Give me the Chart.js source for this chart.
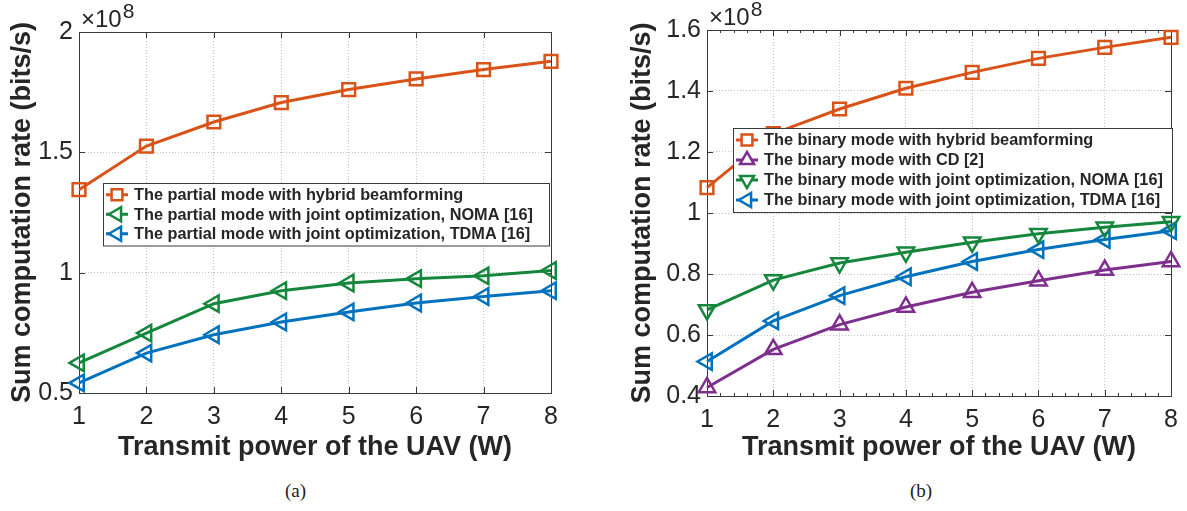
<!DOCTYPE html>
<html>
<head>
<meta charset="utf-8">
<script src="https://cdn.jsdelivr.net/npm/chart.js@4.4.0/dist/chart.umd.min.js"></script>
<style>
    body { margin: 0; background: #fff; width: 1187px; height: 511px; position: relative; overflow: hidden; }
    .box { position: absolute; top: 0; width: 590px; height: 470px; }
    #boxA { left: 0; }
    #boxB { left: 597px; }
    .cap { position: absolute; top: 480px; font-family: "Liberation Serif", "DejaVu Serif", serif; font-size: 19px; color: #222; }
</style>
</head>
<body>
<div class="box" id="boxA"><canvas id="chartA" width="590" height="470"></canvas></div>
<div class="box" id="boxB"><canvas id="chartB" width="590" height="470"></canvas></div>
<div class="cap" style="left:285px">(a)</div>
<div class="cap" style="left:910px">(b)</div>
<script>
/* globals Chart:false */

// transmit power (W)
const power = [1, 2, 3, 4, 5, 6, 7, 8];
// sum computation rate, in units of 10^8 bits/s
const exponent = 8;
const partialHybrid = [1.345, 1.526, 1.626, 1.707, 1.761, 1.805, 1.844, 1.878];
const partialNoma = [0.625, 0.749, 0.871, 0.925, 0.957, 0.975, 0.987, 1.009];
const partialTdma = [0.542, 0.666, 0.742, 0.795, 0.837, 0.874, 0.901, 0.925];

const binaryHybrid = [1.083, 1.26, 1.341, 1.409, 1.461, 1.507, 1.543, 1.576];
const binaryCD = [0.428, 0.553, 0.634, 0.692, 0.740, 0.778, 0.813, 0.841];
const binaryNoma = [0.682, 0.780, 0.836, 0.871, 0.904, 0.932, 0.953, 0.971];
const binaryTdma = [0.513, 0.646, 0.729, 0.791, 0.841, 0.880, 0.913, 0.942];

const yRangeA = [0.5, 2, 0.5];
const yRangeB = [0.4, 1.6, 0.2];

const xTitle = 'Transmit power of the UAV (W)';
const yTitle = 'Sum computation rate (bits/s)';

const ORANGE = '#D95319', GREEN = '#15873d', BLUE = '#0072BD', PURPLE = '#7E2F8E';
const TXT = '#262626';
const FONT = '"Liberation Sans", Arial, sans-serif';

function series(label, values, color, style, rotation, radius) {
    return {
        label: label,
        data: power.map(function (p, i) { return {x: p, y: values[i]}; }),
        borderColor: color,
        backgroundColor: 'rgba(0,0,0,0)',
        borderWidth: 3,
        pointStyle: style,
        pointRotation: rotation,
        pointRadius: radius,
        pointHoverRadius: radius,
        pointBorderWidth: 2.5,
        pointBorderColor: color,
        pointBackgroundColor: 'rgba(0,0,0,0)',
        tension: 0,
        clip: false
    };
}

// box around the plot, inward ticks and the x10^8 label
const framePlugin = {
    id: 'frame',
    beforeDatasetsDraw(chart, args, opts) {
        const ctx = chart.ctx, a = chart.chartArea;
        const x = chart.scales.x, y = chart.scales.y;
        ctx.save();
        ctx.strokeStyle = '#3a3a3a';
        ctx.lineWidth = 1;
        ctx.beginPath();
        x.ticks.forEach(function (t) {
            const p = Math.round(x.getPixelForValue(t.value)) + 0.5;
            ctx.moveTo(p, a.bottom); ctx.lineTo(p, a.bottom - 6);
            ctx.moveTo(p, a.top); ctx.lineTo(p, a.top + 6);
        });
        if (opts.minor) {
            for (let i = x.min; i < x.max; i++) {
                for (let k = 1; k < 5; k++) {
                    const p = Math.round(x.getPixelForValue(i + k * 0.2)) + 0.5;
                    ctx.moveTo(p, a.bottom); ctx.lineTo(p, a.bottom - 3);
                    ctx.moveTo(p, a.top); ctx.lineTo(p, a.top + 3);
                }
            }
        }
        y.ticks.forEach(function (t) {
            const p = Math.round(y.getPixelForValue(t.value)) + 0.5;
            ctx.moveTo(a.left, p); ctx.lineTo(a.left + 6, p);
            ctx.moveTo(a.right, p); ctx.lineTo(a.right - 6, p);
        });
        ctx.stroke();
        ctx.strokeRect(Math.round(a.left) + 0.5, Math.round(a.top) + 0.5, Math.round(a.width), Math.round(a.height));

        ctx.fillStyle = TXT;
        ctx.textBaseline = 'alphabetic';
        ctx.textAlign = 'left';
        ctx.font = '24px ' + FONT;
        ctx.fillText('\u00d710', a.left + 2, a.top - 5);
        const w = ctx.measureText('\u00d710').width;
        ctx.font = '21px ' + FONT;
        ctx.fillText(String(exponent), a.left + 3 + w, a.top - 14);
        ctx.restore();
    }
};

// legend box inside the plot
const boxLegend = {
    id: 'boxLegend',
    afterDatasetsDraw(chart, args, opts) {
        const ctx = chart.ctx;
        const sets = chart.data.datasets;
        const h = opts.rowH * sets.length + 4;
        ctx.save();
        ctx.fillStyle = '#fff';
        ctx.fillRect(opts.x, opts.y, opts.w, h);
        ctx.strokeStyle = '#3a3a3a';
        ctx.lineWidth = 1;
        ctx.strokeRect(opts.x + 0.5, opts.y + 0.5, opts.w, h);
        ctx.font = 'bold 16.3px ' + FONT;
        ctx.textBaseline = 'middle';
        sets.forEach(function (ds, i) {
            const cy = opts.y + 2 + opts.rowH * (i + 0.5);
            const cx = opts.x + 14;
            ctx.strokeStyle = ds.borderColor;
            ctx.lineWidth = 3;
            ctx.beginPath();
            ctx.moveTo(opts.x + 3, cy); ctx.lineTo(opts.x + 25, cy);
            ctx.stroke();
            ctx.lineWidth = 2.5;
            ctx.fillStyle = '#fff';
            Chart.helpers.drawPoint(ctx, {
                pointStyle: ds.pointStyle, rotation: ds.pointRotation,
                radius: ds.pointRadius * 0.85, borderWidth: 2.5
            }, cx, cy);
            ctx.fillStyle = TXT;
            ctx.fillText(ds.label, opts.x + 31, cy + 1);
        });
        ctx.restore();
    }
};

function makeOptions(range, area, legendPos, minor) {
    return {
        responsive: false,
        animation: false,
        layout: {padding: {top: area.top, right: area.right, left: 0, bottom: 0}, autoPadding: false},
        plugins: {
            legend: {display: false},
            tooltip: {enabled: false},
            frame: {minor: minor},
            boxLegend: legendPos
        },
        scales: {
            x: {
                type: 'linear', min: 1, max: 8,
                afterFit: function (s) { s.height = area.xh; },
                ticks: {stepSize: 1, color: TXT, font: {family: FONT, size: 25}, padding: 9, maxRotation: 0},
                grid: {color: '#c4c4c4', drawTicks: false, lineWidth: 1},
                border: {display: false, dash: [1, 2]},
                title: {display: true, text: xTitle, color: TXT, font: {family: FONT, size: 27, weight: 'bold'}, padding: {top: 0, bottom: 6}}
            },
            y: {
                type: 'linear', min: range[0], max: range[1],
                afterFit: function (s) { s.width = area.yw; },
                ticks: {
                    stepSize: range[2], color: TXT, font: {family: FONT, size: 25}, padding: 6,
                    callback: function (v) { return String(Number(v.toFixed(1))); }
                },
                grid: {color: '#c4c4c4', drawTicks: false, lineWidth: 1},
                border: {display: false, dash: [1, 2]},
                title: {display: true, text: yTitle, color: TXT, font: {family: FONT, size: 27, weight: 'bold'}, padding: {top: area.ytp, bottom: 0}}
            }
        }
    };
}

new Chart(document.getElementById('chartA'), {
    type: 'line',
    data: {
        datasets: [
            series('The partial mode with hybrid beamforming', partialHybrid, ORANGE, 'rect', 0, 9),
            series('The partial mode with joint optimization, NOMA [16]', partialNoma, GREEN, 'triangle', -90, 9.5),
            series('The partial mode with joint optimization, TDMA [16]', partialTdma, BLUE, 'triangle', -90, 9.5)
        ]
    },
    options: makeOptions(yRangeA, {top: 32, right: 39, xh: 77, yw: 79, ytp: 6},
        {x: 103, y: 183, w: 446, rowH: 19.5}, false),
    plugins: [framePlugin, boxLegend]
});

new Chart(document.getElementById('chartB'), {
    type: 'line',
    data: {
        datasets: [
            series('The binary mode with hybrid beamforming', binaryHybrid, ORANGE, 'rect', 0, 9),
            series('The binary mode with CD [2]', binaryCD, PURPLE, 'triangle', 0, 9.5),
            series('The binary mode with joint optimization, NOMA [16]', binaryNoma, GREEN, 'triangle', 180, 9.5),
            series('The binary mode with joint optimization, TDMA [16]', binaryTdma, BLUE, 'triangle', -90, 9.5)
        ]
    },
    options: makeOptions(yRangeB, {top: 30, right: 10, xh: 74, yw: 110, ytp: 29},
        {x: 136, y: 128, w: 439, rowH: 20}, true),
    plugins: [framePlugin, boxLegend]
});
</script>
</body>
</html>
